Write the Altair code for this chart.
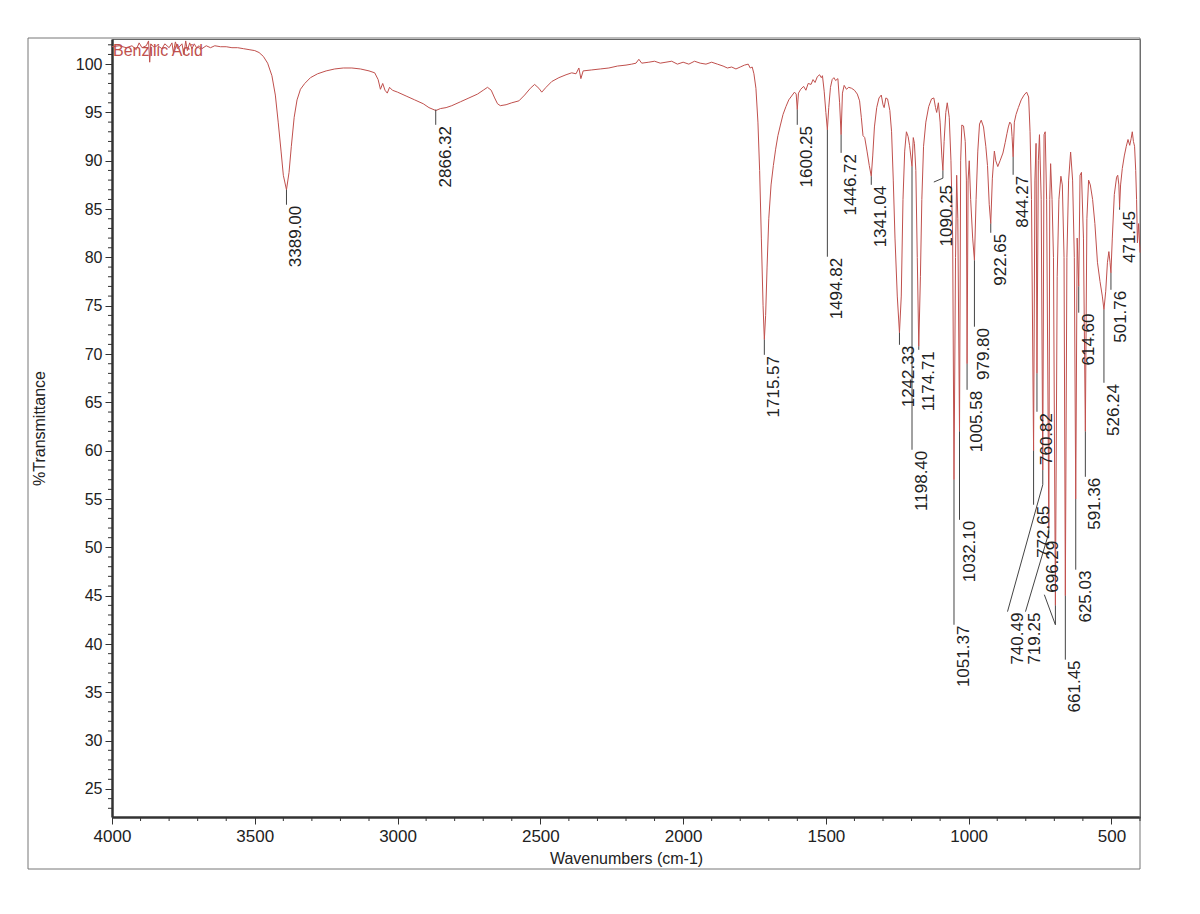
import altair as alt
import pandas as pd

# ---------------- spectrum (wavenumber, %T) ----------------
WN = [4000,3975,3950,3930,3915,3905,3895,3880,3872,3868,3864,3855,3840,3825,3815,3800,3790,3785,3778,3770,
      3755,3748,3742,3736,3728,3720,3712,3704,3695,3685,3670,3655,3640,3620,3600,3580,3560,3540,3520,3500,
      3485,3470,3455,3440,3428,3418,3408,3400,3389,3380,3372,3362,3352,3340,3325,3305,3280,3250,3220,3190,
      3160,3130,3100,3080,3068,3060,3052,3044,3036,3028,3018,3000,2970,2940,2910,2890,2866,2850,2830,2810,
      2780,2750,2720,2700,2685,2672,2660,2650,2640,2620,2600,2575,2555,2535,2520,2505,2495,2480,2460,2435,
      2410,2390,2375,2365,2358,2350,2320,2290,2260,2230,2200,2180,2165,2155,2145,2120,2100,2080,2060,2040,
      2020,2000,1980,1960,1940,1920,1900,1880,1860,1845,1830,1815,1800,1785,1772,1765,1758,1752,1745,1738,
      1732,1726,1720,1715.57,1711,1706,1700,1692,1684,1676,1668,1660,1650,1640,1630,1620,1610,1604,1600.25,1596,
      1588,1578,1570,1562,1552,1545,1538,1530,1522,1516,1512,1506,1500,1494.82,1490,1484,1478,1472,1466,1458,
      1452,1446.72,1442,1436,1428,1420,1410,1400,1390,1382,1376,1370,1364,1356,1348,1341.04,1336,1330,1322,1314,
      1306,1300,1296,1290,1284,1276,1270,1264,1258,1250,1242.33,1236,1230,1224,1218,1212,1207,1198.40,1194,1190,
      1185,1180,1174.71,1169,1164,1158,1150,1140,1130,1122,1116,1112,1106,1100,1094,1090.25,1086,1080,1075,1068,
      1062,1056,1051.37,1046,1042,1038,1032.10,1028,1024,1018,1012,1008,1005.58,1002,998,993,986,979.80,974,968,
      962,956,948,940,934,928,922.65,917,910,905,898,890,880,872,866,861,856,851,848,844.27,840,834,
      826,816,806,797,790,785,780,772.65,768,764,760.82,756,752,746,740.49,736,732,727,719.25,716,713,708,
      703,696.29,690,684,677,672,666,661.45,656,650,643,636,630,625.03,620,614.60,610,605,598,591.36,586,580,
      574,566,558,549,540,532,526.24,520,514,509,505,501.76,497,490,482,478,474,471.45,468,462,455,448,
      442,436,431,427,423,419,415,412,409,405,400]
TR = [101.8,101.9,101.7,101.9,101.5,102.2,101.7,101.9,102.4,100.2,102.1,101.8,101.9,101.6,102.1,101.7,102.2,101.2,102.3,101.6,
      102.1,101.0,102.4,101.4,102.2,101.6,102.1,101.7,101.9,101.6,101.9,101.7,101.9,101.8,101.8,101.7,101.7,101.6,101.5,101.4,
      101.2,100.8,100.1,98.8,96.8,94.0,91.0,88.5,87.0,88.8,91.5,94.5,96.3,97.4,98.0,98.6,99.0,99.3,99.5,99.6,
      99.6,99.5,99.3,99.1,98.4,97.4,98.0,97.3,97.0,97.6,97.3,97.1,96.7,96.3,95.9,95.5,95.2,95.4,95.5,95.7,
      96.1,96.5,96.9,97.3,97.6,97.3,96.5,95.9,95.7,95.8,96.0,96.2,96.8,97.5,97.9,97.5,97.1,97.6,98.2,98.6,
      98.9,99.1,99.0,99.6,98.5,99.3,99.4,99.5,99.6,99.8,99.9,100.0,100.1,100.5,100.1,100.2,100.3,100.1,100.2,100.3,
      100.0,100.2,100.0,100.3,100.1,100.0,100.2,100.0,99.8,99.6,99.7,99.5,99.7,99.9,100.0,99.6,99.7,99.0,97.5,94.0,
      89.0,82.0,75.0,71.5,74.0,79.0,84.0,87.5,89.5,91.2,92.6,93.6,94.8,95.6,96.3,96.7,97.1,96.9,95.3,97.0,
      97.4,97.7,97.3,98.0,97.9,98.4,98.1,98.7,98.9,98.6,98.8,97.2,95.0,93.2,95.5,97.6,98.4,98.6,98.3,98.5,
      96.0,92.7,97.0,97.8,97.4,97.6,97.5,97.3,96.9,96.2,94.5,92.6,92.4,91.0,89.5,88.4,90.5,93.5,95.5,96.5,
      96.8,95.8,95.5,96.5,96.4,95.2,93.0,88.0,82.0,76.0,72.2,76.0,86.0,91.0,93.0,92.5,91.6,89.4,92.4,91.8,
      89.0,80.0,70.8,78.0,86.0,91.5,94.0,95.6,96.4,96.5,95.5,95.0,96.0,94.0,90.5,89.0,92.0,95.0,96.0,94.5,
      90.0,82.0,57.0,80.0,88.5,84.0,62.0,90.0,93.7,93.6,92.0,88.0,69.0,88.0,90.0,86.0,82.0,79.7,86.0,91.0,
      93.8,94.2,93.5,91.5,89.5,85.5,83.5,88.2,91.0,90.0,89.4,90.0,90.8,91.9,92.8,93.5,94.0,93.8,92.5,90.4,94.0,94.8,
      95.5,96.3,96.8,97.1,96.6,93.0,86.0,60.0,88.0,91.8,68.0,90.0,92.7,86.0,58.0,92.7,93.0,86.0,52.0,86.0,89.7,86.0,
      80.0,44.0,78.0,86.0,88.4,87.5,80.0,45.0,80.0,88.0,90.9,88.0,80.0,55.0,82.0,77.0,88.5,88.8,82.0,62.0,84.0,88.0,
      87.5,86.0,83.5,79.5,77.5,76.0,74.6,76.5,79.5,80.6,79.5,78.4,82.0,86.5,88.3,88.5,87.5,85.2,87.5,89.2,90.5,91.5,
      92.2,91.6,92.3,93.0,92.0,91.5,89.0,86.0,81.5,83.5,80.5]

# ---------------- peak labels ----------------
PK_TEXT = ["3389.00","2866.32","1715.57","1600.25","1494.82","1446.72","1341.04","1242.33","1198.40","1174.71",
           "1090.25","1051.37","1032.10","1005.58","979.80","922.65","844.27","772.65","760.82","740.49",
           "719.25","696.29","661.45","625.03","614.60","591.36","526.24","501.76","471.45"]
PK_WN = [3389.00,2866.32,1715.57,1600.25,1494.82,1446.72,1341.04,1242.33,1198.40,1174.71,
         1090.25,1051.37,1032.10,1005.58,979.80,922.65,844.27,772.65,760.82,740.49,
         719.25,696.29,661.45,625.03,614.60,591.36,526.24,501.76,471.45]
PK_DIP = [87.0,95.3,71.5,95.3,93.2,92.7,88.4,72.2,89.4,70.8,
          89.0,57.0,62.0,69.0,79.7,83.5,90.4,60.0,68.0,58.0,
          52.0,44.0,45.0,55.0,77.0,62.0,74.6,78.4,85.2]
PK_BEND = [85.45,93.72,69.92,93.72,80.07,90.82,87.51,70.96,60.10,70.44,
           88.2,41.99,52.85,66.30,72.83,82.55,88.55,54.41,64.03,56.48,
           51.5,41.99,38.38,47.69,74.28,57.30,67.03,76.65,84.93]
PK_END_WN = [3389.00,2866.32,1715.57,1600.25,1494.82,1446.72,1341.04,1242.33,1198.40,1174.71,
             1122.0,1051.37,1032.10,1005.58,979.80,922.65,844.27,772.65,760.82,864.0,
             801.0,735.0,661.45,625.03,614.60,591.36,526.24,501.76,471.45]
PK_END_T = [85.45,93.72,69.92,93.72,80.07,90.82,87.51,70.96,60.10,70.44,
            87.8,41.99,52.85,66.30,72.83,82.55,88.55,54.41,64.03,43.35,
            43.35,45.1,38.38,47.69,74.28,57.30,67.03,76.65,84.93]
PK_TXT_WN = [3389.00,2866.32,1715.57,1600.25,1494.82,1446.72,1341.04,1242.33,1198.40,1174.71,
             1112.0,1051.37,1032.10,1005.58,979.80,922.65,844.27,772.65,760.82,864.0,
             801.0,735.0,661.45,625.03,614.60,591.36,526.24,501.76,471.45]
PK_TXT_T = [85.35,93.6,69.8,93.6,79.95,90.7,87.4,70.85,60.0,70.3,
            87.5,41.9,52.75,66.2,72.7,82.45,88.45,54.3,63.9,43.25,
            43.25,45.3,38.3,47.6,74.2,57.2,66.9,76.55,84.8]
PK_UP = [False]*21 + [True] + [False]*7

# axis ticks
X_MAJOR = [500, 1000, 1500, 2000, 2500, 3000, 3500, 4000]
Y_MAJOR = [25, 30, 35, 40, 45, 50, 55, 60, 65, 70, 75, 80, 85, 90, 95, 100]
X_MINOR = [v for v in range(400, 4001, 100) if v % 500 != 0]
Y_MINOR = [v for v in range(23, 103) if v % 5 != 0]

SAMPLE = ["Benzilic Acid"]

FONT = "Liberation Sans"
RED = "#c0504d"
INK = "#333333"

spec = pd.DataFrame({"wn": WN, "t": TR})

rows = []
for i in range(len(PK_TEXT)):
    rows.append({"id": i, "seq": 0, "wn": PK_WN[i], "t": PK_DIP[i]})
    rows.append({"id": i, "seq": 1, "wn": PK_WN[i], "t": PK_BEND[i]})
    rows.append({"id": i, "seq": 2, "wn": PK_END_WN[i], "t": PK_END_T[i]})
leaders = pd.DataFrame(rows)

labels = pd.DataFrame({"text": PK_TEXT, "wn": PK_TXT_WN, "t": PK_TXT_T, "up": PK_UP})
lab_down = labels[~labels["up"]].drop(columns=["up"])
lab_up = labels[labels["up"]].drop(columns=["up"])

xscale = alt.Scale(domain=[400, 4000], reverse=True, nice=False, zero=False)
yscale = alt.Scale(domain=[22.1, 102.6], nice=False, zero=False)

xaxis = alt.Axis(
    values=X_MAJOR, format="d", labelOverlap=False, labelFlush=False, tickSize=7,
    labelFontSize=17, title="Wavenumbers (cm-1)", titlePadding=6, labelPadding=4, grid=False,
)
yaxis = alt.Axis(
    values=Y_MAJOR, format="d", labelOverlap=False, labelFlush=False, tickSize=7,
    title="%Transmittance", titlePadding=28, labelPadding=3, grid=False,
)

line = alt.Chart(spec).mark_line(color=RED, strokeWidth=1).encode(
    x=alt.X("wn:Q", scale=xscale, axis=xaxis),
    y=alt.Y("t:Q", scale=yscale, axis=yaxis),
)

xminor = alt.Chart(pd.DataFrame({"v": X_MINOR})).mark_rule(color=INK, strokeWidth=1).encode(
    x=alt.X("v:Q", scale=xscale), y=alt.value(778), y2=alt.value(782)
)
yminor = alt.Chart(pd.DataFrame({"v": Y_MINOR})).mark_rule(color=INK, strokeWidth=1).encode(
    y=alt.Y("v:Q", scale=yscale), x=alt.value(-4), x2=alt.value(0)
)

lead = alt.Chart(leaders).mark_line(color="#444444", strokeWidth=1).encode(
    x=alt.X("wn:Q", scale=xscale),
    y=alt.Y("t:Q", scale=yscale),
    detail="id:N",
    order="seq:Q",
)

txt_down = alt.Chart(lab_down).mark_text(
    angle=270, align="right", baseline="top", dy=2, font=FONT, fontSize=17, color="#222222"
).encode(x=alt.X("wn:Q", scale=xscale), y=alt.Y("t:Q", scale=yscale), text="text:N")

txt_up = alt.Chart(lab_up).mark_text(
    angle=270, align="left", baseline="top", dy=1, font=FONT, fontSize=17, color="#222222"
).encode(x=alt.X("wn:Q", scale=xscale), y=alt.Y("t:Q", scale=yscale), text="text:N")

title_df = pd.DataFrame({"text": SAMPLE, "wn": [4000], "t": [101.4]})
sample = alt.Chart(title_df).mark_text(
    align="left", baseline="middle", dx=1, font=FONT, fontSize=16, color=RED
).encode(x=alt.X("wn:Q", scale=xscale), y=alt.Y("t:Q", scale=yscale), text="text:N")

frame = alt.Chart(pd.DataFrame({"a": [0]})).mark_rect(
    fill=None, stroke="#777777", strokeWidth=1
).encode(x=alt.value(-84), x2=alt.value(1028), y=alt.value(-1), y2=alt.value(830))

chart = alt.layer(frame, xminor, yminor, line, lead, txt_down, txt_up, sample).properties(
    width=1028, height=778,
    autosize=alt.AutoSizeParams(type="none"),
    padding={"left": 112, "top": 39, "right": 60, "bottom": 97},
    background="white",
).configure_view(
    stroke="#666666", strokeWidth=1
).configure_axis(
    domainColor=INK, domainWidth=2.5, tickColor=INK,
    labelFont=FONT, labelFontSize=16, labelColor="#222222",
    titleFont=FONT, titleFontSize=16, titleFontWeight="normal", titleColor="#222222",
)

chart.save("out.html", embed_options={"renderer": "svg", "actions": False})
